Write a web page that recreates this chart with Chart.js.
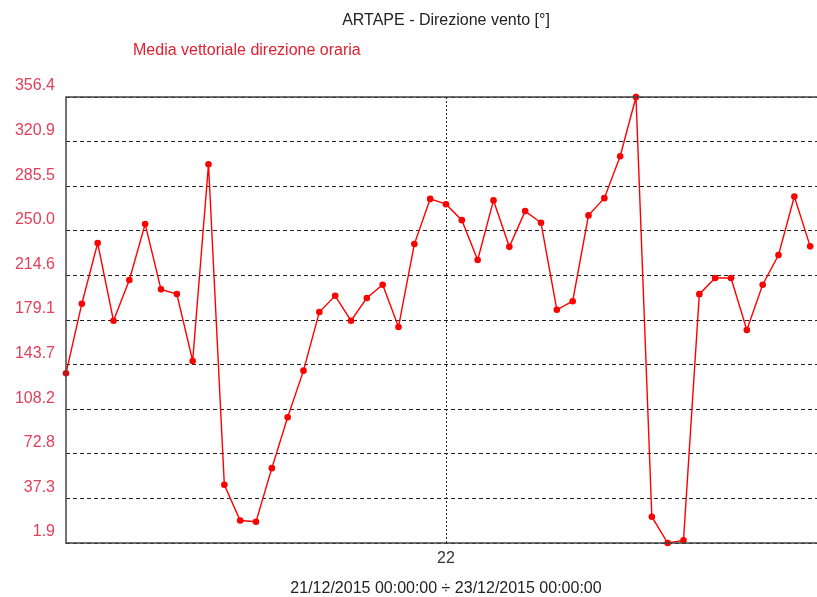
<!DOCTYPE html>
<html>
<head>
<meta charset="utf-8">
<script src="https://cdn.jsdelivr.net/npm/chart.js@4/dist/chart.umd.min.js"></script>
<style>
  html, body { margin: 0; padding: 0; background: #fff; overflow: hidden; }
  canvas { display: block; }
</style>
</head>
<body>
<canvas id="c" width="830" height="597"></canvas>
<script>
// hourly vector mean of wind direction, 21/12/2015 00:00 -> 23/12/2015 00:00
const hours = [
  0, 1, 2, 3, 4, 5, 6, 7, 8, 9, 10, 11, 12, 13, 14, 15,
  16, 17, 18, 19, 20, 21, 22, 23, 24, 25, 26, 27, 28, 29, 30, 31,
  32, 33, 34, 35, 36, 37, 38, 39, 40, 41, 42, 43, 44, 45, 46, 47
];
const direction = [
  136.8, 192.1, 240.3, 178.6, 210.9, 255.4, 203.5, 199.8, 146.6, 303.0, 48.2, 19.8, 18.8, 61.4, 101.9, 138.9,
  185.5, 198.4, 178.6, 196.6, 207.2, 173.6, 239.5, 275.4, 271.2, 258.5, 226.8, 274.2, 237.3, 265.7, 256.4, 187.3,
  194.1, 262.3, 276.0, 309.3, 356.4, 22.8, 1.9, 4.0, 199.7, 212.5, 212.5, 171.2, 207.2, 230.8, 277.3, 237.7
];
const yTickLabels = ['1.9', '37.3', '72.8', '108.2', '143.7', '179.1', '214.6', '250.0', '285.5', '320.9', '356.4'];
const xTickHours = [24];
const xTickLabels = ['22'];

const TITLE = 'ARTAPE - Direzione vento [°]';
const SERIES = 'Media vettoriale direzione oraria';
const XTITLE = '21/12/2015 00:00:00 ÷ 23/12/2015 00:00:00';

const FONT = '"Liberation Sans", Arial, sans-serif';
const RED = '#ff0000';
const LABEL_RED = '#e0405a';

const frame = {
  id: 'frame',
  afterDraw(chart) {
    const { ctx, chartArea: a } = chart;
    ctx.save();
    ctx.strokeStyle = '#444';
    ctx.lineWidth = 1.5;
    ctx.strokeRect(a.left, a.top, a.right - a.left, a.bottom - a.top);
    ctx.font = '16px ' + FONT;
    ctx.textBaseline = 'middle';
    ctx.fillStyle = '#222';
    ctx.textAlign = 'center';
    ctx.fillText(TITLE, (a.left + a.right) / 2, 21);
    ctx.fillStyle = '#e02030';
    ctx.textAlign = 'left';
    ctx.fillText(SERIES, a.left + 67, 51);
    ctx.restore();
  }
};

new Chart(document.getElementById('c'), {
  type: 'line',
  data: {
    datasets: [{
      label: SERIES,
      data: hours.map((h, i) => ({ x: h, y: direction[i] })),
      borderColor: RED,
      backgroundColor: RED,
      borderWidth: 1.4,
      pointRadius: 3.3,
      pointBorderWidth: 0,
      pointBackgroundColor: RED,
      tension: 0
    }]
  },
  options: {
    responsive: false,
    animation: false,
    clip: false,
    layout: { padding: { top: 97, left: 0, right: 0, bottom: 0 } },
    plugins: { legend: { display: false }, tooltip: { enabled: false } },
    scales: {
      x: {
        type: 'linear',
        min: 0,
        max: 48,
        afterBuildTicks: s => { s.ticks = xTickHours.map(v => ({ value: v })); },
        afterFit: s => { s.height = 54; },
        ticks: {
          color: '#333',
          font: { family: FONT, size: 16 },
          padding: 6,
          maxRotation: 0,
          callback: (v, i) => xTickLabels[i]
        },
        grid: { color: '#222', lineWidth: 1, drawTicks: false },
        border: { display: false, dash: [2, 2] },
        title: {
          display: true,
          text: XTITLE,
          color: '#222',
          font: { family: FONT, size: 16, lineHeight: 1 },
          padding: { top: 0, bottom: 0 }
        }
      },
      y: {
        type: 'linear',
        min: 1.9,
        max: 356.4,
        afterBuildTicks: s => { s.ticks = yTickLabels.map(t => ({ value: parseFloat(t) })); },
        afterFit: s => { s.width = 66; },
        ticks: {
          color: LABEL_RED,
          font: { family: FONT, size: 16 },
          padding: 11,
          labelOffset: -11,
          callback: (v, i) => yTickLabels[i]
        },
        grid: { color: '#222', lineWidth: 1, drawTicks: false },
        border: { display: false, dash: [4, 3] }
      }
    }
  },
  plugins: [frame]
});
</script>
</body>
</html>
